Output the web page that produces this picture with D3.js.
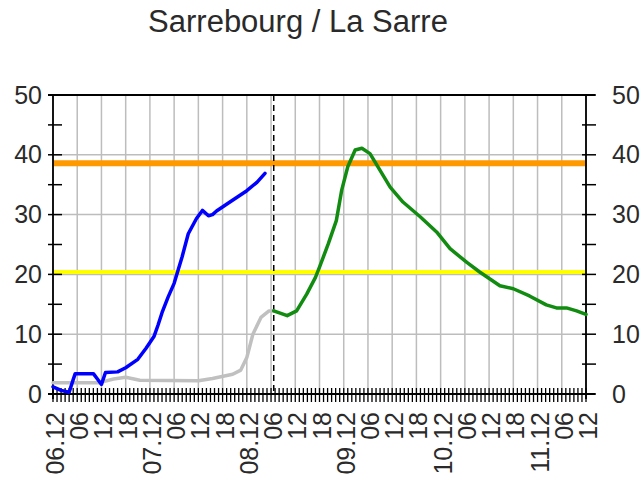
<!DOCTYPE html>
<html>
<head>
<meta charset="utf-8">
<script src="https://cdnjs.cloudflare.com/ajax/libs/d3/7.8.5/d3.min.js"></script>
<style>
  body { margin: 0; background: #fff; }
  text { font-family: "Liberation Sans", Arial, sans-serif; fill: #2a2a2a; }
</style>
</head>
<body>
<div id="chart"></div>
<script>
// water level, Sarrebourg / La Sarre (December)
var blueTimes = ["06 00:00","06 02:00","06 04:00","06 05:00","06 05:30","06 10:00","06 11:00","06 12:00","06 13:00","06 16:00","06 18:00","06 21:00","06 23:00","07 01:00","07 02:00","07 03:00","07 04:30","07 06:00","07 08:00","07 09:30","07 11:30","07 13:00","07 14:30","07 15:30","07 16:30","07 20:00","08 00:00","08 02:30","08 04:30"]
var blueValues = [1.2,0.6,0.3,2.4,3.4,3.4,2.5,1.6,3.6,3.7,4.4,5.8,7.6,9.6,11.5,13.6,16.2,18.5,23.0,26.8,29.3,30.7,29.8,30.0,30.6,32.2,34.0,35.4,36.9]

var greyTimes = ["06 00:00","06 11:30","06 15:00","06 18:00","06 21:30","07 12:00","07 15:30","07 20:30","07 22:30","08 00:00","08 01:30","08 03:30","08 05:30","08 06:40"]
var greyValues = [1.9,1.9,2.5,2.8,2.3,2.2,2.6,3.3,4.0,6.1,10.0,12.8,13.9,13.9]

var greenTimes = ["08 06:40","08 10:00","08 12:20","08 14:50","08 17:00","08 18:00","08 20:10","08 22:10","08 23:30","09 01:00","09 02:50","09 04:30","09 06:30","09 09:00","09 11:30","09 14:40","09 19:00","09 23:00","10 02:20","10 06:30","10 09:40","10 14:40","10 18:00","10 22:00","11 02:10","11 04:40","11 07:10","11 09:40","11 12:00"]
var greenValues = [13.9,13.1,13.9,16.7,19.5,21.2,25.1,29.0,34.1,38.0,40.8,41.1,40.2,37.4,34.6,32.1,29.6,27.1,24.3,22.0,20.4,18.1,17.6,16.4,14.9,14.4,14.4,13.9,13.3]

var thresholdValues = [38.6, 20.4]
var thresholdColors = ["#ff9900", "#ffff00"]
var nowTime = "08 06:40"
var startTime = "06 00:00", endTime = "11 12:00"
var yTicks = [0,10,20,30,40,50]

var parse = d3.utcParse("%Y-%m-%d %H:%M")
function t(s){ return parse("2010-12-" + s) }

var width = 644, height = 480
var margin = {top: 95, right: 58, bottom: 86, left: 53}

var svg = d3.select("#chart").append("svg")
    .attr("width", width).attr("height", height)

var x = d3.scaleUtc().domain([t(startTime), t(endTime)]).range([margin.left, width - margin.right])
var y = d3.scaleLinear().domain([0, 50]).range([height - margin.bottom, margin.top])

svg.append("text").text("Sarrebourg / La Sarre")
    .attr("x", 298).attr("y", 32)
    .attr("text-anchor", "middle")
    .style("font-size", "31px")

// grid
var hours6 = d3.utcHour.every(6).range(t(startTime), d3.utcHour.offset(t(endTime), 1))
svg.selectAll(".vgrid").data(hours6).enter().append("line")
    .attr("x1", function(d){ return x(d) }).attr("x2", function(d){ return x(d) })
    .attr("y1", y(0)).attr("y2", y(50))
    .attr("stroke", "#bdbdbd").attr("stroke-width", 1.5)
svg.selectAll(".hgrid").data([10,20,30,40]).enter().append("line")
    .attr("x1", x.range()[0]).attr("x2", x.range()[1])
    .attr("y1", function(d){ return y(d) }).attr("y2", function(d){ return y(d) })
    .attr("stroke", "#bdbdbd").attr("stroke-width", 1.5)

// thresholds
svg.selectAll(".thr").data(thresholdValues).enter().append("line")
    .attr("x1", x.range()[0]).attr("x2", x.range()[1])
    .attr("y1", function(d){ return y(d) }).attr("y2", function(d){ return y(d) })
    .attr("stroke", function(d,i){ return thresholdColors[i] })
    .attr("stroke-width", function(d,i){ return i == 0 ? 6 : 4 })

// frame
var x0 = x.range()[0], x1 = x.range()[1]
svg.append("line").attr("x1", x0 - 5).attr("x2", x1 + 9).attr("y1", y(50)).attr("y2", y(50)).attr("stroke", "#000").attr("stroke-width", 1.8)
svg.append("line").attr("x1", x0 - 5).attr("x2", x1 + 9).attr("y1", y(0)).attr("y2", y(0)).attr("stroke", "#000").attr("stroke-width", 1.8)
svg.append("line").attr("x1", x0).attr("x2", x0).attr("y1", y(50)).attr("y2", y(0) + 5).attr("stroke", "#000").attr("stroke-width", 1.8)
svg.append("line").attr("x1", x1).attr("x2", x1).attr("y1", y(50)).attr("y2", y(0) + 5).attr("stroke", "#000").attr("stroke-width", 1.8)

// y ticks crossing the axes
var yTickVals = d3.range(0, 51, 5)
svg.selectAll(".ytl").data(yTickVals).enter().append("line")
    .attr("x1", x0 - 5).attr("x2", x0 + 9)
    .attr("y1", function(d){ return y(d) }).attr("y2", function(d){ return y(d) })
    .attr("stroke", "#000").attr("stroke-width", 1.5)
svg.selectAll(".ytr").data(yTickVals).enter().append("line")
    .attr("x1", x1 - 4).attr("x2", x1 + 10)
    .attr("y1", function(d){ return y(d) }).attr("y2", function(d){ return y(d) })
    .attr("stroke", "#000").attr("stroke-width", 1.5)

// hourly ticks on the bottom
var hours = d3.utcHour.range(t(startTime), d3.utcHour.offset(t(endTime), 1))
svg.selectAll(".xt").data(hours).enter().append("line")
    .attr("x1", function(d){ return x(d) }).attr("x2", function(d){ return x(d) })
    .attr("y1", y(0) - 6).attr("y2", y(0) + 8)
    .attr("stroke", "#000").attr("stroke-width", 1.3)

// y labels via axes
var yl = svg.append("g").attr("transform", "translate(" + (x0 - 11) + ",0)")
    .call(d3.axisLeft(y).tickValues(yTicks).tickSize(0).tickPadding(0))
var yr = svg.append("g").attr("transform", "translate(" + (x1 + 26) + ",0)")
    .call(d3.axisRight(y).tickValues(yTicks).tickSize(0).tickPadding(0))
svg.selectAll(".domain").remove()
svg.selectAll(".tick text").style("font-size", "25px").attr("fill", "#2a2a2a")

// x labels
var fmtDay = d3.utcFormat("%d.%m"), fmtHour = d3.utcFormat("%H")
var xl = svg.append("g").attr("transform", "translate(0," + (y(0) + 18) + ")")
    .call(d3.axisBottom(x).tickValues(hours6).tickSize(0).tickPadding(0)
      .tickFormat(function(d){ return d.getUTCHours() == 0 ? fmtDay(d) : fmtHour(d) }))
xl.select(".domain").remove()
xl.selectAll("text")
    .attr("transform", "rotate(-90)")
    .attr("x", 0).attr("y", 0).attr("dy", "0.42em")
    .style("text-anchor", "end")
    .style("font-size", "25px")
    .attr("fill", "#2a2a2a")

// now line
svg.append("line")
    .attr("x1", x(t(nowTime))).attr("x2", x(t(nowTime)))
    .attr("y1", y(50)).attr("y2", y(0))
    .attr("stroke", "#000").attr("stroke-width", 1.5).attr("stroke-dasharray", "6,4")

// series
var line = d3.line().x(function(d){ return x(d[0]) }).y(function(d){ return y(d[1]) })
function series(times, values, color){
  var pts = times.map(function(s, i){ return [t(s), values[i]] })
  svg.append("path").datum(pts)
    .attr("d", line)
    .attr("fill", "none").attr("stroke", color).attr("stroke-width", 3.5)
    .attr("stroke-linejoin", "round").attr("stroke-linecap", "round")
}
series(greyTimes, greyValues, "#c0c0c0")
series(blueTimes, blueValues, "#0000ff")
series(greenTimes, greenValues, "#118c11")
</script>
</body>
</html>
